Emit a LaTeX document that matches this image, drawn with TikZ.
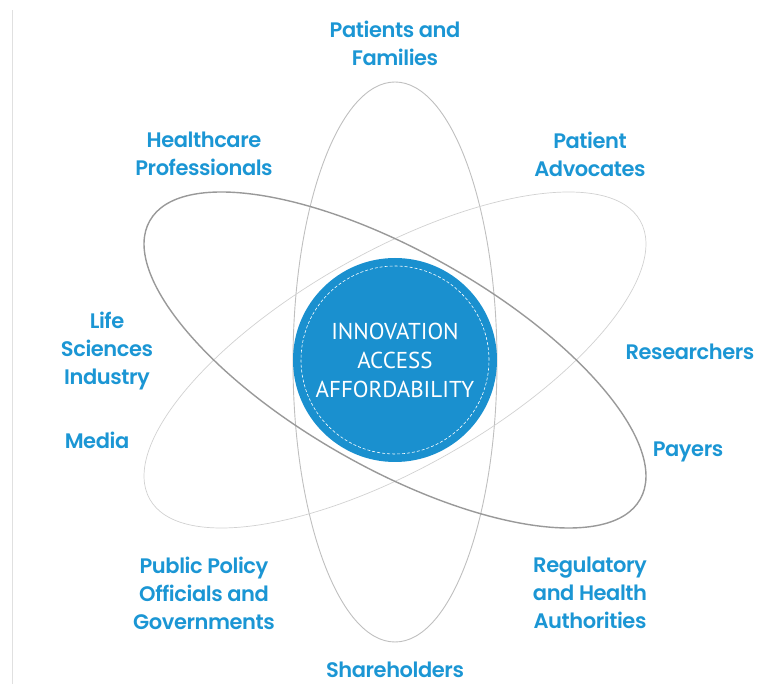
\documentclass[tikz,border=0pt]{standalone}
\usepackage{fontspec}
\newfontfamily\labelfont{Poppins SemiBold}[LetterSpace=-2]
\newfontfamily\corefont{PT Sans}
\definecolor{stakeBlue}{HTML}{1B96D4}
\definecolor{coreBlue}{HTML}{1A90CF}

\begin{document}
\begin{tikzpicture}
[x=1pt,y=1pt,
  orbitDark/.style={draw=black!40,line width=1.4pt},
  orbitLight/.style={draw=black!18,line width=0.7pt},
  orbitMid/.style={draw=black!25,line width=0.9pt},
  stakeDecorate/.style={text=stakeBlue,font=\labelfont\fontsize{21}{28}\selectfont,
    align=center,inner sep=0pt},
  coreDecorate/.style={shape=circle,fill=coreBlue,minimum size=204pt,inner sep=0pt,
    text=white,font=\corefont\fontsize{23}{29}\selectfont,align=center}]

\useasboundingbox (-395,-324) rectangle (365,360);
%% faint rule on the left
\draw[black!12,line width=1pt] (-382,350) -- (-382,-324);

%% orbits
\draw[orbitMid] (0,-2) ellipse [x radius=102,y radius=280];
\draw[orbitLight,rotate=29.6] (0,0) ellipse [x radius=282,y radius=108];
\draw[orbitDark,rotate=-29.6] (0,0) ellipse [x radius=282,y radius=108];

%% core
\node (core) at (0,0) [coreDecorate] {INNOVATION\\ACCESS\\AFFORDABILITY};
\draw[white,line width=0.6pt,dash pattern=on 3pt off 2pt] (core.center) circle (94);

%% stakeholders
\foreach \nodename/\x/\y/\txt in {
  families/0/317/{Patients and\\Families},
  professionals/-191/206/{Healthcare\\Professionals},
  advocates/195/206/{Patient\\Advocates},
  industry/-288/9/{Life\\Sciences\\Industry},
  media/-298/-80/{Media},
  researchers/295/8/{Researchers},
  payers/293/-92/{Payers},
  officials/-191/-233/{Public Policy\\Officials and\\Governments},
  authorities/195/-233/{Regulatory\\and Health\\Authorities},
  shareholders/0/-310/{Shareholders}}
{
  \node (\nodename) at (\x,\y) [stakeDecorate] {\txt};
}
\end{tikzpicture}
\end{document}
